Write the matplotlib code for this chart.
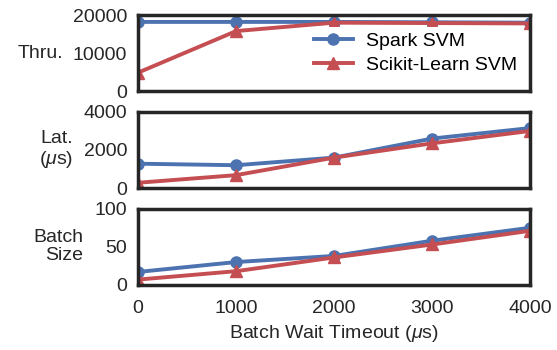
import matplotlib
matplotlib.use("Agg")
import matplotlib.pyplot as plt

timeouts = [0, 1000, 2000, 3000, 4000]

spark_thru = [18200, 18200, 18200, 18100, 18000]
sklearn_thru = [4900, 15800, 18000, 17900, 17800]

spark_lat = [1280, 1200, 1600, 2600, 3150]
sklearn_lat = [280, 680, 1600, 2350, 3000]

spark_batch = [17, 30, 38, 58, 75]
sklearn_batch = [7, 18, 36, 53, 71]

plt.rcParams['font.family'] = ['Liberation Sans', 'DejaVu Sans']
plt.rcParams['mathtext.fontset'] = 'custom'
plt.rcParams['mathtext.it'] = 'Liberation Sans:italic'
plt.rcParams['mathtext.rm'] = 'Liberation Sans'

blue = '#4C72B0'
red = '#C44E52'
txt = '#262626'
fs = 14

fig, axes = plt.subplots(3, 1, figsize=(5.57, 3.5), dpi=100, sharex=True)
fig.subplots_adjust(left=0.248, right=0.952, top=0.957, bottom=0.186, hspace=0.27)

panels = [
    (spark_thru, sklearn_thru, 'Thru.', [0, 10000, 20000], -0.191),
    (spark_lat, sklearn_lat, 'Lat.\n($\\mu$s)', [0, 2000, 4000], -0.166),
    (spark_batch, sklearn_batch, 'Batch\nSize', [0, 50, 100], -0.140),
]

for ax, (s, k, lab, ticks, lx) in zip(axes, panels):
    ax.plot(timeouts, s, color=blue, marker='o', lw=2.8, ms=8, label='Spark SVM')
    ax.plot(timeouts, k, color=red, marker='^', lw=2.8, ms=8, label='Scikit-Learn SVM')
    ax.set_xlim(0, 4000)
    ax.set_ylim(ticks[0], ticks[-1])
    ax.set_yticks(ticks)
    ax.set_ylabel(lab, rotation=0, fontsize=fs, color=txt, ha='right', va='center',
                  multialignment='right', linespacing=1.1)
    ax.yaxis.set_label_coords(lx, 0.5)
    ax.tick_params(length=0, labelsize=fs, colors=txt, pad=8)
    for sp in ax.spines.values():
        sp.set_linewidth(2.5)
        sp.set_color(txt)

axes[2].set_xticks(timeouts)
axes[2].tick_params(axis='x', pad=11)
axes[2].set_xlabel('Batch Wait Timeout ($\\mu$s)', fontsize=fs, color=txt, labelpad=4)

leg = axes[0].legend(loc='center', fontsize=fs, frameon=True, framealpha=1,
                     edgecolor='white', bbox_to_anchor=(0.708, 0.5), handlelength=2.0,
                     handletextpad=0.7, labelspacing=0.3, borderpad=0.3)
leg.get_frame().set_linewidth(0)

fig.savefig('out.png', dpi=100)
